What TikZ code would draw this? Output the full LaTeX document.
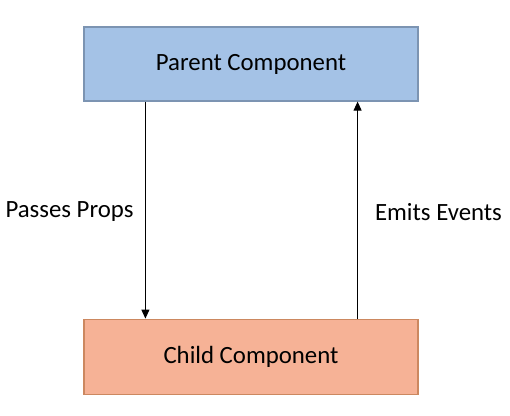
\documentclass[tikz,border=0pt]{standalone}
\usepackage{fontspec}
\setmainfont{Carlito}
\usepackage{tikz}
\usetikzlibrary{positioning,calc,arrows.meta}

\definecolor{parentfill}{RGB}{164,194,230}
\definecolor{parentline}{RGB}{124,148,178}
\definecolor{childfill}{RGB}{246,178,150}
\definecolor{childline}{RGB}{204,136,96}

\begin{document}
\begin{tikzpicture}[x=0.75pt, y=-0.75pt, ->, >={Triangle[length=6.75pt, width=6pt]}, node distance=162.75pt, comp/.style = {rectangle, draw, line width=0.9pt, minimum width=250.5pt, minimum height=55.5pt, inner sep=0pt, font=\fontsize{18.6}{22}\selectfont}, lbl/.style = {font=\fontsize{18.6}{22}\selectfont, inner sep=0pt}, every path/.append style={line width=0.75pt}]

\useasboundingbox (0,0) rectangle (510,416);

\node[comp, fill=parentfill, draw=parentline] (parent) at (251,64) {Parent Component};
\node[comp, fill=childfill, draw=childline, minimum height=56.25pt] (child) [below=of parent] {Child Component};

\coordinate (pd) at ([xshift=46.5pt]parent.south west);
\coordinate (cd) at ([xshift=46.5pt]child.north west);
\coordinate (pu) at ([xshift=-45.75pt]parent.south east);
\coordinate (cu) at ([xshift=-45.75pt]child.north east);

\node[lbl] (props) at (69.5,212) {Passes Props};
\node[lbl] (events) at (438.5,212) {Emits Events};

\path 
    (pd) edge (cd)
    (cu) edge (pu);
\end{tikzpicture}
\end{document}
